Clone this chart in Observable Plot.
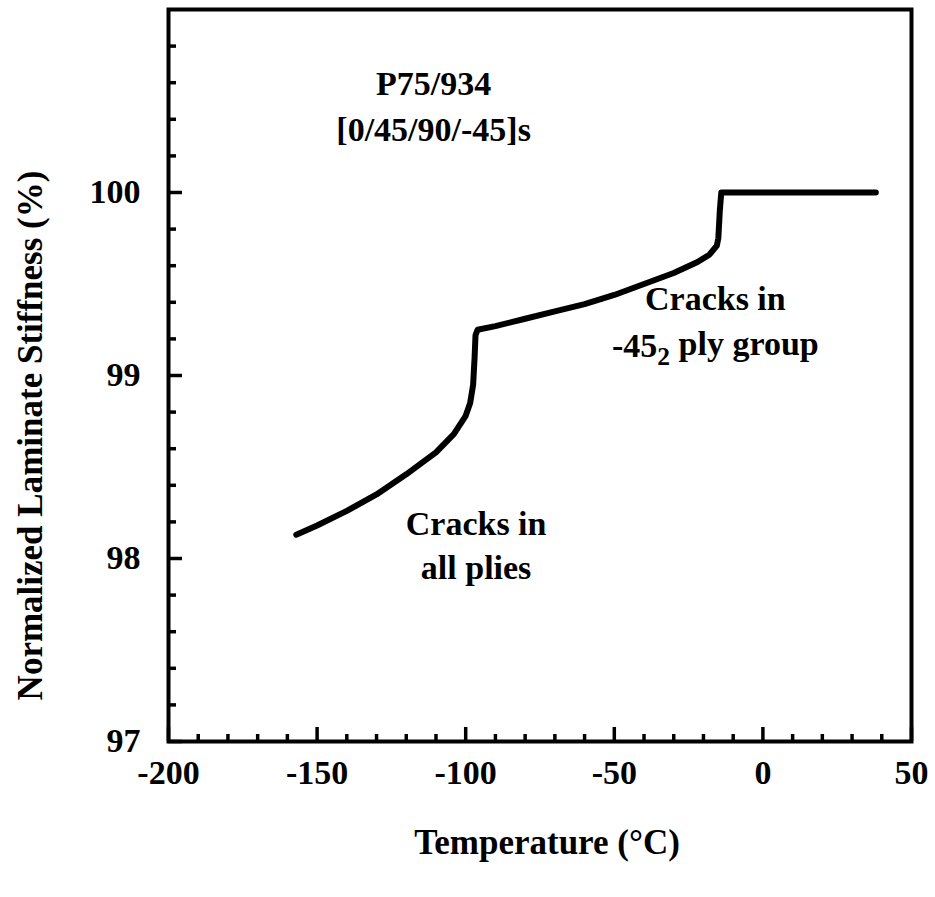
<!DOCTYPE html>
<html>
<head>
<meta charset="utf-8">
<script src="https://cdn.jsdelivr.net/npm/d3@7"></script>
<script src="https://cdn.jsdelivr.net/npm/@observablehq/plot@0.6"></script>
<style>
  html, body { margin: 0; padding: 0; background: #fff; }
  #chart svg { display: block; }
</style>
</head>
<body>
<div id="chart"></div>
<script>
// Temperature (°C) and normalized laminate stiffness (%)
const temperature = [-157, -150, -140, -130, -120, -110, -104, -100, -98.5, -97.5, -97, -96.7, -96, -90, -80, -70, -60, -50, -40, -30, -22, -18, -15.5, -15, -14.5, -14, 38];
const stiffness   = [98.13, 98.18, 98.26, 98.35, 98.46, 98.58, 98.68, 98.78, 98.85, 98.95, 99.10, 99.22, 99.25, 99.27, 99.31, 99.35, 99.39, 99.44, 99.50, 99.56, 99.62, 99.66, 99.71, 99.75, 99.90, 100.0, 100.0];

const xMajorTicks = [-200, -150, -100, -50, 0, 50];
const xMinorTicks = [-190, -180, -170, -160, -140, -130, -120, -110, -90, -80, -70, -60, -40, -30, -20, -10, 10, 20, 30, 40];
const yMajorTicks = [97, 98, 99, 100];
const yMinorTicks = [97.2, 97.4, 97.6, 97.8, 98.2, 98.4, 98.6, 98.8, 99.2, 99.4, 99.6, 99.8, 100.2, 100.4, 100.6, 100.8];

const noteText = ["P75/934", "[0/45/90/-45]s", "Cracks in", "-45_2 ply group", "Cracks in", "all plies"];
const noteX    = [-110.8, -110.8, -16, -16, -96.5, -96.5];
const noteY    = [100.59, 100.34, 99.42, 99.16, 98.19, 97.95];

const xLabel = "Temperature (°C)";
const yLabel = "Normalized Laminate Stiffness (%)";

const curve = temperature.map((t, i) => ({t, s: stiffness[i]}));
const notes = noteText.map((text, i) => ({text, x: noteX[i], y: noteY[i]}));

const W = 935, H = 897;
const mL = 168, mR = 24, mT = 9, mB = 156;
const innerW = W - mL - mR, innerH = H - mT - mB;
const FS = 34, TFS = 35;

const chart = Plot.plot({
  width: W,
  height: H,
  marginLeft: mL,
  marginRight: mR,
  marginTop: mT,
  marginBottom: mB,
  style: {fontFamily: "'Liberation Serif', 'Times New Roman', serif", fontSize: FS + "px", fontWeight: "bold", color: "#000", background: "#fff"},
  x: {domain: [-200, 50]},
  y: {domain: [97, 101]},
  marks: [
    Plot.axisX(xMajorTicks, {tickSize: 0, tickPadding: 18, label: null, fontSize: FS, tickFormat: d => String(d)}),
    Plot.axisY(yMajorTicks, {tickSize: 0, tickPadding: 28, label: null, fontSize: FS, tickFormat: d => String(d)}),
    Plot.ruleX(xMajorTicks, {x: d => d, insetTop: innerH - 14, stroke: "#000", strokeWidth: 3.5}),
    Plot.ruleX(xMinorTicks, {x: d => d, insetTop: innerH - 7, stroke: "#000", strokeWidth: 3.5}),
    Plot.ruleY(yMajorTicks, {y: d => d, insetRight: innerW - 14, stroke: "#000", strokeWidth: 3.5}),
    Plot.ruleY(yMinorTicks, {y: d => d, insetRight: innerW - 8, stroke: "#000", strokeWidth: 3.5}),
    Plot.frame({stroke: "#000", strokeWidth: 4}),
    Plot.line(curve, {x: "t", y: "s", stroke: "#000", strokeWidth: 6, strokeLinecap: "round", strokeLinejoin: "round"}),
    Plot.text(notes, {x: "x", y: "y", text: "text", fontSize: FS, fill: "#000"}),
    Plot.text([xLabel], {frameAnchor: "bottom", textAnchor: "middle", dy: 112, dx: 7, text: d => d, fontSize: TFS, fill: "#000"}),
    Plot.text([yLabel], {frameAnchor: "left", textAnchor: "middle", lineAnchor: "middle", dx: -138, dy: 60, rotate: -90, text: d => d, fontSize: TFS, fill: "#000"})
  ]
});

// render subscript "2" in the -45_2 annotation
d3.select(chart).selectAll("text").each(function() {
  const el = d3.select(this);
  if (el.text() === "-45_2 ply group") {
    el.text("");
    el.append("tspan").text("-45");
    el.append("tspan").attr("dy", "0.3em").attr("font-size", (FS * 0.75) + "px").text("2");
    el.append("tspan").attr("dy", "-0.3em").text(" ply group");
  }
});

document.getElementById("chart").appendChild(chart);
</script>
</body>
</html>
